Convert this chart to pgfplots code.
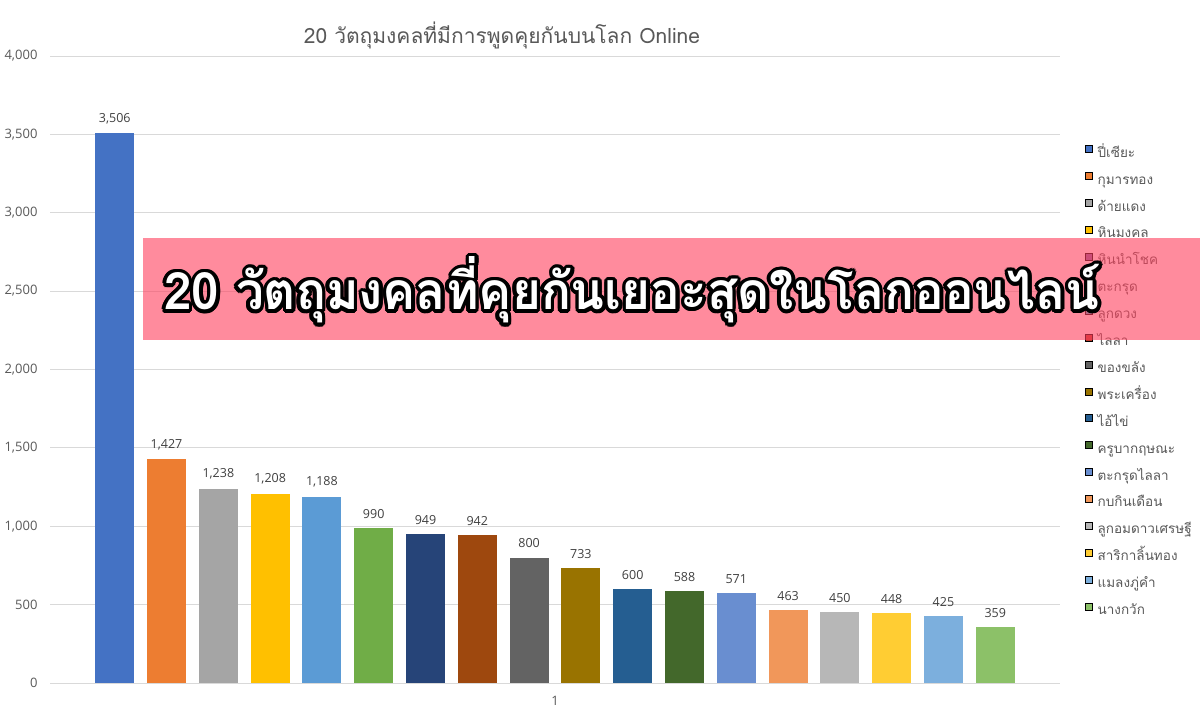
\documentclass[border=0pt]{standalone}
\usepackage{fontspec}
\setmainfont{Open Sans}
\newfontfamily\thai[Script=Thai]{Loma}
\usepackage{pgfplots}
\pgfplotsset{compat=1.18}
\definecolor{gridgray}{HTML}{D9D9D9}
\definecolor{tickgray}{HTML}{595959}
\definecolor{labgray}{HTML}{404040}
\definecolor{bannerc}{RGB}{255,63,92}
\definecolor{c1}{HTML}{4472C4}
\definecolor{c2}{HTML}{ED7D31}
\definecolor{c3}{HTML}{A5A5A5}
\definecolor{c4}{HTML}{FFC000}
\definecolor{c5}{HTML}{5B9BD5}
\definecolor{c6}{HTML}{70AD47}
\definecolor{c7}{HTML}{264478}
\definecolor{c8}{HTML}{9E480E}
\definecolor{c9}{HTML}{636363}
\definecolor{c10}{HTML}{997300}
\definecolor{c11}{HTML}{255E91}
\definecolor{c12}{HTML}{43682B}
\definecolor{c13}{HTML}{698ED0}
\definecolor{c14}{HTML}{F1975A}
\definecolor{c15}{HTML}{B7B7B7}
\definecolor{c16}{HTML}{FFCD33}
\definecolor{c17}{HTML}{7CAFDD}
\definecolor{c18}{HTML}{8CC168}
\definecolor{l5}{HTML}{8064A2}
\definecolor{l6}{HTML}{B06030}
\definecolor{l7}{HTML}{4BACC6}
\definecolor{l8}{HTML}{C0392B}
\def\bantext{\thai\bfseries 20 วัตถุมงคลที่คุยกันเยอะสุดในโลกออนไลน์}
\begin{document}
\begin{tikzpicture}[x=1pt,y=1pt]
\path[use as bounding box, fill=white] (0,0) rectangle (1200,719);
\begin{axis}[
  at={(50pt,36pt)}, anchor=south west,
  scale only axis, width=1010pt, height=627pt,
  xmin=-0.25, xmax=19.25, ymin=0, ymax=4000,
  axis x line*=bottom, axis y line*=left,
  x axis line style={draw=gridgray, line width=0.8pt},
  y axis line style={draw=none},
  ytick={0,500,...,4000},
  ymajorgrids, grid style={draw=gridgray, line width=0.8pt},
  major tick length=0pt,
  /pgf/number format/1000 sep={,},
  /pgf/number format/assume math mode=true,
  tick label style={font=\fontsize{13}{13}\selectfont, text=tickgray},
  yticklabel style={xshift=-9pt},
  xtick={9.5}, xticklabels={1},
  xticklabel style={yshift=-10pt},
  clip=false,
  mybar/.style={ybar, bar width=39pt, draw=none, forget plot,
    nodes near coords,
    every node near coord/.append style={font=\fontsize{12.5}{12.5}\selectfont, text=labgray, yshift=6pt}},
  legend cell align=left,
  legend image code/.code={\fill[#1] (0pt,1pt) rectangle (7pt,8pt);},
  legend style={at={(1.0248,0.8660)}, anchor=north west, draw=none, fill=none,
    inner sep=0pt, column sep=5pt, row sep=0pt,
    font=\thai\fontsize{13.5}{15}\selectfont, text=tickgray,
    nodes={inner sep=0pt, text height=17pt, text depth=9.9pt}},
]
\addplot[mybar, fill=c1] coordinates {(1,3506)};
\addplot[mybar, fill=c2] coordinates {(2,1427)};
\addplot[mybar, fill=c3] coordinates {(3,1238)};
\addplot[mybar, fill=c4] coordinates {(4,1208)};
\addplot[mybar, fill=c5] coordinates {(5,1188)};
\addplot[mybar, fill=c6] coordinates {(6,990)};
\addplot[mybar, fill=c7] coordinates {(7,949)};
\addplot[mybar, fill=c8] coordinates {(8,942)};
\addplot[mybar, fill=c9] coordinates {(9,800)};
\addplot[mybar, fill=c10] coordinates {(10,733)};
\addplot[mybar, fill=c11] coordinates {(11,600)};
\addplot[mybar, fill=c12] coordinates {(12,588)};
\addplot[mybar, fill=c13] coordinates {(13,571)};
\addplot[mybar, fill=c14] coordinates {(14,463)};
\addplot[mybar, fill=c15] coordinates {(15,450)};
\addplot[mybar, fill=c16] coordinates {(16,448)};
\addplot[mybar, fill=c17] coordinates {(17,425)};
\addplot[mybar, fill=c18] coordinates {(18,359)};
\addlegendimage{fill=c1}\addlegendentry{ปี่เซียะ}
\addlegendimage{fill=c2}\addlegendentry{กุมารทอง}
\addlegendimage{fill=c3}\addlegendentry{ด้ายแดง}
\addlegendimage{fill=c4}\addlegendentry{หินมงคล}
\addlegendimage{fill=l5}\addlegendentry{หินนำโชค}
\addlegendimage{fill=l6}\addlegendentry{ตะกรุด}
\addlegendimage{fill=l7}\addlegendentry{ลูกดวง}
\addlegendimage{fill=l8}\addlegendentry{ไลลา}
\addlegendimage{fill=c9}\addlegendentry{ของขลัง}
\addlegendimage{fill=c10}\addlegendentry{พระเครื่อง}
\addlegendimage{fill=c11}\addlegendentry{ไอ้ไข่}
\addlegendimage{fill=c12}\addlegendentry{ครูบากฤษณะ}
\addlegendimage{fill=c13}\addlegendentry{ตะกรุดไลลา}
\addlegendimage{fill=c14}\addlegendentry{กบกินเดือน}
\addlegendimage{fill=c15}\addlegendentry{ลูกอมดาวเศรษฐี}
\addlegendimage{fill=c16}\addlegendentry{สาริกาลิ้นทอง}
\addlegendimage{fill=c17}\addlegendentry{แมลงภู่คำ}
\addlegendimage{fill=c18}\addlegendentry{นางกวัก}
\end{axis}
\node[font=\thai\fontsize{21}{21}\selectfont, text=tickgray] at (502,684) {20 วัตถุมงคลที่มีการพูดคุยกันบนโลก Online};
\fill[bannerc, opacity=0.6] (143,379) rectangle (1200,481);
\foreach \a in {0,22.5,...,337.5}
  \node[anchor=base, text=black, inner sep=0pt] at ({632+3.6*cos(\a)},{409+3.6*sin(\a)}) {\resizebox{935pt}{53pt}{\bantext}};
\node[anchor=base, text=white, inner sep=0pt] at (632,409) {\resizebox{935pt}{53pt}{\bantext}};
\end{tikzpicture}
\end{document}
